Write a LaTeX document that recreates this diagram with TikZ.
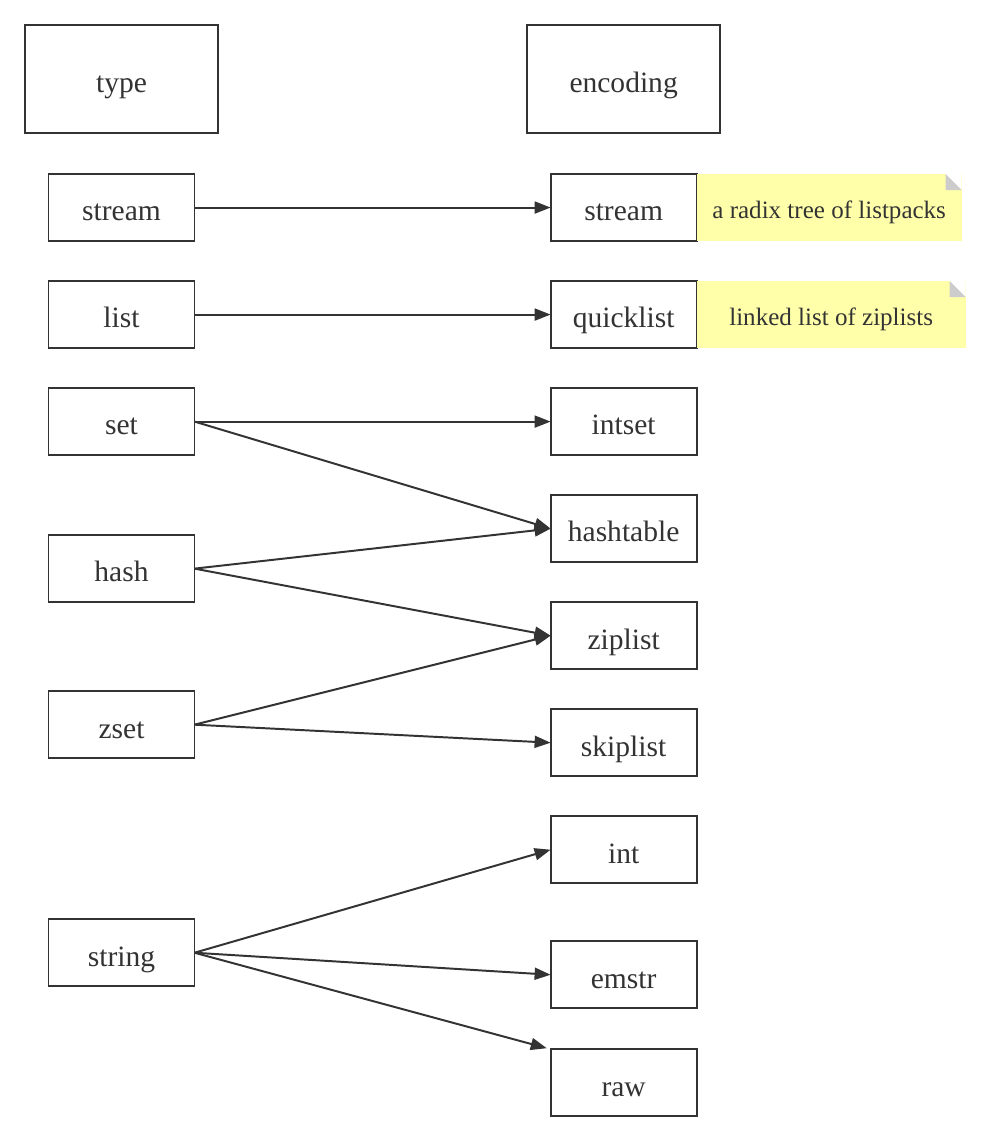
\documentclass[tikz,border=0pt]{standalone}
\usepackage{fontspec}
\setmainfont{Liberation Serif}
\newfontfamily\boxfont{Liberation Serif}
\usepackage{xcolor}
\usepackage{tikz}
\usetikzlibrary{arrows.meta,positioning}
\definecolor{lineDark}{HTML}{333333}
\definecolor{noteYellow}{HTML}{FFFFAA}
\definecolor{foldGray}{HTML}{CCCCCC}

\begin{document}
\begin{tikzpicture}[
        x=0.025cm, y=-0.025cm,
        head/.style={draw=lineDark, line width=1.3pt, outer sep=0pt, minimum width=4.825cm, minimum height=2.7cm, text=lineDark, text height=19pt, text depth=0pt, font=\boxfont\fontsize{21}{25}\selectfont},
        kind/.style={draw=lineDark, line width=1.3pt, outer sep=0pt, minimum width=3.65cm, minimum height=1.675cm, text=lineDark, text height=19pt, text depth=0pt, font=\boxfont\fontsize{21}{25}\selectfont},
        notebox/.style={fill=noteYellow, outer sep=0pt, minimum height=1.675cm, inner sep=0pt, text=lineDark, text height=15.5pt, text depth=0pt, font=\boxfont\fontsize{17.8}{21}\selectfont,
            path picture={
                \fill[white] ([xshift=-0.4cm]path picture bounding box.north east) -- (path picture bounding box.north east) -- ([yshift=-0.4cm]path picture bounding box.north east) -- cycle;
                \fill[foldGray] ([xshift=-0.4cm]path picture bounding box.north east) -- ([xshift=-0.4cm,yshift=-0.4cm]path picture bounding box.north east) -- ([yshift=-0.4cm]path picture bounding box.north east) -- cycle;
            }},
        arrow/.style={-{Triangle[length=4mm, width=3mm]}, draw=lineDark, line width=1.4pt}
    ]
        \useasboundingbox (0,0) rectangle (990,1140);

        \node[head] (type) at (121.5,79) {type};
        \node[head, right=7.725cm of type] (encoding) {encoding};

        \node[kind, below=1.025cm of type] (tstream) {stream};
        \node[kind, below=1cm of tstream] (tlist) {list};
        \node[kind, below=1cm of tlist] (tset) {set};
        \node[kind, below=2cm of tset] (thash) {hash};
        \node[kind, below=2.225cm of thash] (tzset) {zset};
        \node[kind, below=4.025cm of tzset] (tstring) {string};

        \node[kind, below=1.025cm of encoding] (estream) {stream};
        \node[kind, below=1cm of estream] (equicklist) {quicklist};
        \node[kind, below=1cm of equicklist] (eintset) {intset};
        \node[kind, below=1cm of eintset] (ehashtable) {hashtable};
        \node[kind, below=1cm of ehashtable] (eziplist) {ziplist};
        \node[kind, below=1cm of eziplist] (eskiplist) {skiplist};
        \node[kind, below=1cm of eskiplist] (eint) {int};
        \node[kind, below=1.45cm of eint] (eemstr) {emstr};
        \node[kind, below=1.025cm of eemstr] (eraw) {raw};

        \node[notebox, minimum width=6.625cm, right=0cm of estream] (nstream) {a radix tree of listpacks};
        \node[notebox, minimum width=6.725cm, right=0cm of equicklist] (nquicklist) {linked list of ziplists};

        \draw[arrow] (tstream) -- (estream);
        \draw[arrow] (tlist) -- (equicklist);
        \draw[arrow] (tset.east) -- (eintset.west);
        \draw[arrow] (tset.east) -- (ehashtable.west);
        \draw[arrow] (thash.east) -- (ehashtable.west);
        \draw[arrow] (thash.east) -- (eziplist.west);
        \draw[arrow] (tzset.east) -- (eziplist.west);
        \draw[arrow] (tzset.east) -- (eskiplist.west);
        \draw[arrow] (tstring.east) -- (eint.west);
        \draw[arrow] (tstring.east) -- (eemstr.west);
        \draw[arrow, shorten >=1mm] (tstring.east) -- (eraw.north west);
    \end{tikzpicture}
\end{document}
